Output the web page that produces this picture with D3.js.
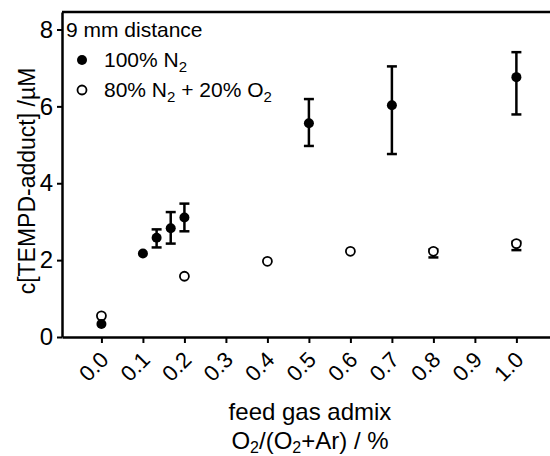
<!DOCTYPE html>
<html>
<head>
<meta charset="utf-8">
<script src="https://cdn.jsdelivr.net/npm/d3@7"></script>
<style>
  body { margin: 0; background: #fff; }
  svg { display: block; font-family: "Liberation Sans", Arial, sans-serif; }
</style>
</head>
<body>
<svg id="chart"></svg>
<script>
// data
var xTicks = [0.0, 0.1, 0.2, 0.3, 0.4, 0.5, 0.6, 0.7, 0.8, 0.9, 1.0];
var yTicks = [0, 2, 4, 6, 8];

// 100% N2 (filled) - mean, upper and lower end of the error bar
var n2X = [0.0, 0.1, 0.133, 0.167, 0.2, 0.5, 0.7, 1.0];
var n2Y = [0.34, 2.17, 2.58, 2.83, 3.11, 5.56, 6.03, 6.76];
var n2Hi = [null, null, 2.80, 3.25, 3.47, 6.19, 7.04, 7.41];
var n2Lo = [null, null, 2.33, 2.43, 2.75, 4.97, 4.76, 5.79];

// 80% N2 + 20% O2 (open)
var o2X = [0.0, 0.2, 0.4, 0.6, 0.8, 1.0];
var o2Y = [0.55, 1.58, 1.97, 2.23, 2.23, 2.43];
var o2Hi = [null, null, null, null, 2.28, 2.48];
var o2Lo = [null, null, null, null, 2.07, 2.26];

var W = 550, H = 456;
var margin = {top: 12, right: 0, bottom: 119, left: 62};
var width = W - margin.left - margin.right;
var height = H - margin.top - margin.bottom;

var svg = d3.select('#chart').attr('width', W).attr('height', H);
var g = svg.append('g').attr('transform', 'translate(' + margin.left + ',' + margin.top + ')');

var x = d3.scaleLinear().domain([-0.095, 1.081]).range([0, width]);
var y = d3.scaleLinear().domain([0, 8.455]).range([height, 0]);

// axes
var xAxis = g.append('g')
    .attr('transform', 'translate(0,' + height + ')')
    .call(d3.axisBottom(x).tickValues(xTicks).tickFormat(d3.format('.1f')).tickSize(6).tickSizeOuter(0));
xAxis.select('.domain').attr('stroke-width', 2.5);
xAxis.selectAll('.tick line').attr('stroke-width', 2);
xAxis.selectAll('.tick text')
    .attr('font-size', 22)
    .attr('fill', '#000')
    .attr('text-anchor', 'end')
    .attr('dy', null)
    .attr('y', null)
    .attr('transform', 'translate(8,24) rotate(-45)');

var yAxis = g.append('g')
    .call(d3.axisLeft(y).tickValues(yTicks).tickSize(5).tickSizeOuter(0).tickPadding(4));
yAxis.select('.domain').attr('stroke-width', 2.5);
yAxis.selectAll('.tick line').attr('stroke-width', 2);
yAxis.selectAll('.tick text').attr('font-size', 24).attr('fill', '#000');

// top frame line
g.append('line')
    .attr('x1', 0).attr('x2', width)
    .attr('y1', 0).attr('y2', 0)
    .attr('stroke', '#000').attr('stroke-width', 2.5);

// error bars (ends are read separately, bars are not symmetric)
function errorBars(xs, hi, lo) {
    var d = xs.map(function(v, i){ return {x: v, hi: hi[i], lo: lo[i]}; })
        .filter(function(d){ return d.hi != null; });
    var eg = g.append('g').attr('stroke', '#000').attr('stroke-width', 2.5);
    eg.selectAll('.ev').data(d).enter().append('line')
        .attr('x1', function(d){ return x(d.x); })
        .attr('x2', function(d){ return x(d.x); })
        .attr('y1', function(d){ return y(d.hi); })
        .attr('y2', function(d){ return y(d.lo); });
    ['hi', 'lo'].forEach(function(k){
        eg.selectAll('.cap-' + k).data(d).enter().append('line')
            .attr('x1', function(d){ return x(d.x) - 5; })
            .attr('x2', function(d){ return x(d.x) + 5; })
            .attr('y1', function(d){ return y(d[k]); })
            .attr('y2', function(d){ return y(d[k]); });
    });
}
errorBars(n2X, n2Hi, n2Lo);
errorBars(o2X, o2Hi, o2Lo);

// open circles
g.selectAll('.open').data(o2X).enter().append('circle')
    .attr('cx', function(d){ return x(d); })
    .attr('cy', function(d, i){ return y(o2Y[i]); })
    .attr('r', 4.5)
    .attr('fill', '#fff').attr('stroke', '#000').attr('stroke-width', 1.8);

// filled circles
g.selectAll('.full').data(n2X).enter().append('circle')
    .attr('cx', function(d){ return x(d); })
    .attr('cy', function(d, i){ return y(n2Y[i]); })
    .attr('r', 5).attr('fill', '#000');

// legend
var lg = svg.append('g').attr('font-size', 21);
lg.append('text').attr('x', 66).attr('y', 37).text('9 mm distance');
lg.append('circle').attr('cx', 82).attr('cy', 60).attr('r', 5).attr('fill', '#000');
var t1 = lg.append('text').attr('x', 104).attr('y', 67);
t1.append('tspan').text('100% N');
t1.append('tspan').attr('font-size', 15).attr('dy', 5).text('2');
lg.append('circle').attr('cx', 82).attr('cy', 90).attr('r', 4.5)
    .attr('fill', '#fff').attr('stroke', '#000').attr('stroke-width', 1.8);
var t2 = lg.append('text').attr('x', 104).attr('y', 97);
t2.append('tspan').text('80% N');
t2.append('tspan').attr('font-size', 15).attr('dy', 5).text('2');
t2.append('tspan').attr('dy', -5).text(' + 20% O');
t2.append('tspan').attr('font-size', 15).attr('dy', 5).text('2');

// axis titles
svg.append('text')
    .attr('transform', 'translate(35,181) rotate(-90)')
    .attr('text-anchor', 'middle').attr('font-size', 23)
    .text('c[TEMPD-adduct] /µM');

var cx = 310;
svg.append('text').attr('x', cx).attr('y', 420).attr('text-anchor', 'middle')
    .attr('font-size', 24).text('feed gas admix');
var xt = svg.append('text').attr('x', cx).attr('y', 449).attr('text-anchor', 'middle').attr('font-size', 24);
xt.append('tspan').text('O');
xt.append('tspan').attr('font-size', 16).attr('dy', 4).text('2');
xt.append('tspan').attr('dy', -4).text('/(O');
xt.append('tspan').attr('font-size', 16).attr('dy', 4).text('2');
xt.append('tspan').attr('dy', -4).text('+Ar) / %');
</script>
</body>
</html>
